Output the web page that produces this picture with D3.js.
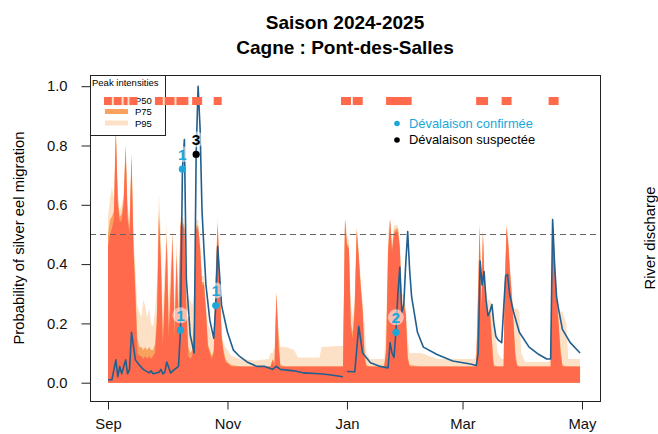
<!DOCTYPE html>
<html>
<head>
<meta charset="utf-8">
<script src="https://cdn.jsdelivr.net/npm/d3@7"></script>
<style>
  body { margin: 0; background: #fff; }
  svg { display: block; font-family: "Liberation Sans", Arial, sans-serif; }
</style>
</head>
<body>
<svg id="chart" width="658" height="434"></svg>
<script>
/**
 * Saison 2024-2025 - Cagne : Pont-des-Salles
 * Discharge bands + migration probability + devalaison events
 */

// --- River discharge (relative units) ---
const qDates = [
  '2024-09-01', '2024-09-02', '2024-09-03', '2024-09-04', '2024-09-05', '2024-09-06', '2024-09-07',
  '2024-09-08', '2024-09-09', '2024-09-10', '2024-09-11', '2024-09-12', '2024-09-13', '2024-09-14',
  '2024-09-15', '2024-09-16', '2024-09-17', '2024-09-18', '2024-09-19', '2024-09-20', '2024-09-21',
  '2024-09-22', '2024-09-23', '2024-09-24', '2024-09-25', '2024-09-26', '2024-09-27', '2024-09-28',
  '2024-09-29', '2024-09-30', '2024-10-01', '2024-10-02', '2024-10-03', '2024-10-04', '2024-10-05',
  '2024-10-06', '2024-10-07', '2024-10-08', '2024-10-09', '2024-10-10', '2024-10-11', '2024-10-12',
  '2024-10-13', '2024-10-14', '2024-10-15', '2024-10-16', '2024-10-17', '2024-10-18', '2024-10-19',
  '2024-10-20', '2024-10-21', '2024-10-22', '2024-10-23', '2024-10-24', '2024-10-25', '2024-10-26',
  '2024-10-27', '2024-10-28', '2024-10-29', '2024-10-30', '2024-10-31', '2024-11-01', '2024-11-03',
  '2024-11-08', '2024-11-15', '2024-11-22', '2024-11-23', '2024-11-24', '2024-11-25', '2024-11-26',
  '2024-11-27', '2024-11-28', '2024-12-01', '2024-12-05', '2024-12-07', '2024-12-18', '2024-12-19',
  '2024-12-30', '2024-12-31', '2025-01-01', '2025-01-02', '2025-01-03', '2025-01-04', '2025-01-05',
  '2025-01-06', '2025-01-07', '2025-01-08', '2025-01-09', '2025-01-10', '2025-01-11', '2025-01-13',
  '2025-01-20', '2025-01-21', '2025-01-22', '2025-01-23', '2025-01-24', '2025-01-25', '2025-01-26',
  '2025-01-27', '2025-01-28', '2025-01-29', '2025-01-30', '2025-01-31', '2025-02-01', '2025-02-02',
  '2025-02-08', '2025-02-12', '2025-02-16', '2025-03-07', '2025-03-08', '2025-03-09', '2025-03-09 18',
  '2025-03-10 14', '2025-03-11 10', '2025-03-12 10', '2025-03-14', '2025-03-15', '2025-03-16 12', '2025-03-17',
  '2025-03-19', '2025-03-21', '2025-03-22', '2025-03-22 12', '2025-03-23 12', '2025-03-24 12', '2025-03-25',
  '2025-03-26', '2025-03-27', '2025-03-28', '2025-03-29', '2025-03-30', '2025-03-31', '2025-04-02',
  '2025-04-14', '2025-04-15', '2025-04-15 12', '2025-04-16', '2025-04-16 12', '2025-04-17', '2025-04-18',
  '2025-04-19', '2025-04-20', '2025-04-21', '2025-04-23', '2025-04-24', '2025-04-30'
];
const qP50 = [
  .46, .50, .52, .55, .84, .60, .54,
  .55, .60, .79, .55, .50, .76, .45,
  .29, .10, .09, .09, .08, .09, .08,
  .09, .08, .09, .10, .20, .56, .40,
  .12, .30, .48, .15, .30, .48, .15,
  .42, .20, .53, .53, .52, .25, .09,
  .08, .09, .20, .52, .52, .45, .33,
  .33, .24, .12, .10, .08, .10, .35,
  .53, .35, .15, .10, .07, .065, .055,
  .055, .055, .055, .055, .075, .055, .30,
  .12, .055, .055, .055, .055, .055, .055,
  .055, .55, .46, .45, .18, .15, .25,
  .51, .42, .32, .24, .08, .055, .055,
  .055, .10, .43, .55, .44, .50, .51,
  .51, .45, .24, .26, .23, .08, .055,
  .055, .055, .055, .055, .055, .30, .52,
  .24, .50, .29, .22, .24, .08, .055,
  .055, .055, .055, .30, .52, .45, .39,
  .30, .20, .08, .055, .055, .055, .055,
  .055, .055, .25, .55, .50, .40, .30,
  .20, .10, .055, .055, .055, .055
];
const qP75 = [
  .50, .55, .56, .58, .86, .62, .56,
  .57, .62, .80, .57, .52, .77, .47,
  .32, .15, .12, .12, .11, .12, .11,
  .12, .11, .11, .13, .24, .58, .42,
  .15, .32, .50, .18, .33, .50, .18,
  .44, .23, .54, .54, .53, .27, .12,
  .10, .11, .22, .53, .53, .46, .34,
  .34, .25, .13, .11, .09, .11, .36,
  .54, .36, .16, .11, .08, .07, .06,
  .055, .055, .055, .055, .08, .07, .30,
  .17, .06, .055, .055, .055, .055, .055,
  .055, .55, .47, .46, .20, .17, .27,
  .52, .43, .33, .25, .10, .06, .055,
  .055, .12, .45, .55, .45, .51, .52,
  .52, .46, .26, .27, .24, .09, .06,
  .055, .055, .055, .055, .06, .32, .53,
  .26, .51, .30, .23, .25, .10, .06,
  .055, .055, .055, .31, .53, .46, .40,
  .31, .21, .10, .06, .055, .055, .055,
  .055, .055, .26, .55, .51, .41, .31,
  .21, .12, .06, .055, .055, .055
];
const qP95 = [
  .56, .62, .66, .62, .87, .64, .58,
  .60, .64, .81, .60, .55, .78, .50,
  .38, .26, .24, .22, .28, .26, .22,
  .25, .20, .19, .24, .34, .64, .50,
  .24, .40, .54, .28, .40, .52, .26,
  .48, .30, .56, .56, .55, .32, .28,
  .28, .26, .30, .55, .55, .48, .36,
  .36, .27, .20, .18, .15, .15, .40,
  .56, .38, .17, .13, .12, .11, .09,
  .08, .075, .08, .10, .10, .12, .31,
  .18, .12, .12, .11, .085, .085, .12,
  .125, .56, .50, .48, .26, .22, .30,
  .53, .45, .35, .27, .20, .10, .08,
  .08, .20, .50, .56, .48, .53, .53,
  .53, .48, .30, .30, .26, .15, .10,
  .10, .09, .08, .08, .10, .36, .55,
  .30, .52, .32, .28, .28, .25, .20,
  .10, .08, .08, .33, .54, .48, .42,
  .33, .25, .25, .25, .24, .10, .07,
  .07, .08, .28, .56, .52, .43, .33,
  .24, .24, .24, .20, .08, .08
];

// --- Probability of silver eel migration ---
const probDates = [
  '2024-09-01', '2024-09-03', '2024-09-05', '2024-09-06', '2024-09-07', '2024-09-08', '2024-09-10',
  '2024-09-11', '2024-09-12', '2024-09-13', '2024-09-15', '2024-09-17', '2024-09-19', '2024-09-22',
  '2024-09-23', '2024-09-24', '2024-09-27', '2024-09-28', '2024-09-29', '2024-09-30', '2024-10-01',
  '2024-10-03', '2024-10-05', '2024-10-07', '2024-10-08', '2024-10-09', '2024-10-10', '2024-10-11',
  '2024-10-13', '2024-10-15', '2024-10-16', '2024-10-17', '2024-10-18', '2024-10-19', '2024-10-20',
  '2024-10-21', '2024-10-23', '2024-10-25', '2024-10-26', '2024-10-27', '2024-10-29', '2024-11-01',
  '2024-11-04', '2024-11-07', '2024-11-11', '2024-11-16', '2024-11-20', '2024-11-24', '2024-11-26',
  '2024-11-28', '2024-12-05', '2024-12-10', '2024-12-18', '2024-12-23', '2024-12-30', '2024-12-31',
  '2025-01-01', '2025-01-05', '2025-01-07', '2025-01-09', '2025-01-13', '2025-01-18', '2025-01-22',
  '2025-01-23', '2025-01-24', '2025-01-25', '2025-01-26', '2025-01-27', '2025-01-28', '2025-01-29',
  '2025-01-30', '2025-01-31', '2025-02-01', '2025-02-02', '2025-02-03', '2025-02-06', '2025-02-09',
  '2025-02-16', '2025-02-24', '2025-03-05', '2025-03-08', '2025-03-09', '2025-03-10', '2025-03-11',
  '2025-03-12', '2025-03-13', '2025-03-14', '2025-03-15', '2025-03-16', '2025-03-17', '2025-03-18',
  '2025-03-19', '2025-03-21', '2025-03-22', '2025-03-23', '2025-03-24', '2025-03-25', '2025-03-27',
  '2025-03-30', '2025-04-04', '2025-04-09', '2025-04-13', '2025-04-15', '2025-04-16', '2025-04-17',
  '2025-04-18', '2025-04-19', '2025-04-21', '2025-04-25', '2025-04-30'
];
const probValues = [
  .01, .01, .077, .02, .055, .03, .077,
  .03, .045, .17, .077, .06, .045, .033,
  .04, .03, .035, .045, .03, .035, .07,
  .033, .045, .055, .177, .72, .82, .35,
  .16, .10, .77, 1.0, .86, .58, .45,
  .33, .21, .15, .26, .46, .26, .17,
  .11, .09, .07, .055, .055, .045, .055,
  .045, .04, .033, .03, .027, .02, null,
  .038, .037, .19, .10, .067, .055, .05,
  .135, .10, .085, .17, .30, .39, .237,
  .26, .40, .51, .38, .29, .17, .12,
  .095, .073, .063, .058, .10, .41, .33,
  .375, .28, .225, .24, .264, .20, .157,
  .145, .135, .25, .36, .365, .30, .24,
  .17, .12, .095, .08, .08, .55, .40,
  .29, .25, .18, .135, .10
];

// --- Peak days (top markers) and their intensity class ---
const peakDates = [
  '2024-09-01', '2024-09-02', '2024-09-03', '2024-09-04', '2024-09-05', '2024-09-06', '2024-09-07',
  '2024-09-08', '2024-09-09', '2024-09-10', '2024-09-11', '2024-09-12', '2024-09-13', '2024-09-14',
  '2024-09-27', '2024-09-28', '2024-09-29', '2024-09-30', '2024-10-01', '2024-10-02', '2024-10-03',
  '2024-10-04', '2024-10-05', '2024-10-06', '2024-10-07', '2024-10-08', '2024-10-09', '2024-10-10',
  '2024-10-16', '2024-10-17', '2024-10-27', '2024-12-31', '2025-01-01', '2025-01-06', '2025-01-07',
  '2025-01-23', '2025-01-24', '2025-01-25', '2025-01-26', '2025-01-27', '2025-01-28', '2025-01-29',
  '2025-01-30', '2025-01-31', '2025-02-01', '2025-03-10', '2025-03-11', '2025-03-12', '2025-03-23',
  '2025-03-24', '2025-04-16', '2025-04-17'
];
const peakClasses = [
  'P50', 'P50', 'P50', 'P50', 'P95', 'P50', 'P50',
  'P50', 'P50', 'P95', 'P50', 'P50', 'P95', 'P50',
  'P50', 'P50', 'P50', 'P50', 'P95', 'P50', 'P50',
  'P50', 'P50', 'P50', 'P95', 'P50', 'P50', 'P50',
  'P50', 'P50', 'P50', 'P50', 'P50', 'P50', 'P50',
  'P50', 'P50', 'P50', 'P50', 'P50', 'P50', 'P50',
  'P50', 'P50', 'P50', 'P50', 'P50', 'P50', 'P50',
  'P50', 'P50', 'P50'
];

// --- Devalaison events ---
const eventDates = ['2024-10-08', '2024-10-09', '2024-10-16', '2024-10-26', '2025-01-26'];
const eventValues = [0.177, 0.72, 0.77, 0.26, 0.17];
const eventLabels = ['1', '1', '3', '1', '2'];
const eventTypes = ['confirmee', 'confirmee', 'suspectee', 'confirmee', 'confirmee'];

// --- Axis ticks ---
const monthTicks = ['2024-09-01', '2024-11-01', '2025-01-01', '2025-03-01', '2025-05-01'];
const monthLabels = ['Sep', 'Nov', 'Jan', 'Mar', 'May'];
const probTicks = [0, 0.2, 0.4, 0.6, 0.8, 1.0];

const intensityNames = ['P50', 'P75', 'P95'];
const COLORS = { P50: '#FF6A4D', P75: '#F9A15E', P95: '#FDE1C7' };
const LINE_BLUE = '#215F8F';
const CYAN = '#1CA7D8';

const parseDay = d3.utcParse('%Y-%m-%d');
const parseHour = d3.utcParse('%Y-%m-%d %H');
const toDate = s => (s.length > 10 ? parseHour(s) : parseDay(s));

function drawChart() {
    const svg = d3.select('#chart');
    svg.selectAll('*').remove();

    const box = { left: 90, right: 600, top: 75, bottom: 401 };

    // Skalen
    const x = d3.scaleUtc()
        .domain([toDate('2024-09-01'), toDate('2025-05-01')])
        .range([108, 582]);
    const y = d3.scaleLinear().domain([0, 1]).range([382.7, 86.2]);
    // discharge has its own (unlabelled) axis
    const yQ = d3.scaleLinear().domain([0, 1]).range([382.7, 86.2]);

    const q = qDates.map((d, i) => ({ date: toDate(d), P50: qP50[i], P75: qP75[i], P95: qP95[i] }));

    // discharge bands, widest first
    ['P95', 'P75', 'P50'].forEach(key => {
        const area = d3.area()
            .x(d => x(d.date))
            .y0(yQ(0))
            .y1(d => yQ(d[key]));
        svg.append('path')
            .datum(q)
            .attr('d', area)
            .style('fill', COLORS[key]);
    });

    // threshold 0.5
    svg.append('line')
        .attr('x1', box.left).attr('x2', box.right)
        .attr('y1', y(0.5)).attr('y2', y(0.5))
        .style('stroke', '#666')
        .style('stroke-width', 1.1)
        .style('stroke-dasharray', '6,4');

    // probability line
    const prob = probDates.map((d, i) => ({ date: toDate(d), v: probValues[i] }));
    const line = d3.line()
        .defined(d => d.v !== null)
        .x(d => x(d.date))
        .y(d => y(d.v));
    svg.append('path')
        .datum(prob)
        .attr('d', line)
        .style('fill', 'none')
        .style('stroke', LINE_BLUE)
        .style('stroke-width', 1.6)
        .style('stroke-linejoin', 'round');

    // Legende Peak intensities
    const leg = svg.append('g');
    leg.append('rect')
        .attr('x', box.left + 0.5).attr('y', box.top + 0.5)
        .attr('width', 75).attr('height', 60)
        .style('fill', '#fff')
        .style('stroke', '#222');
    leg.append('text')
        .attr('x', 92).attr('y', 86)
        .style('font-size', '9.5px')
        .text('Peak intensities');
    intensityNames.forEach((name, i) => {
        const ly = 100 + i * 11.5;
        leg.append('line')
            .attr('x1', 105).attr('x2', 128)
            .attr('y1', ly).attr('y2', ly)
            .style('stroke', COLORS[name])
            .style('stroke-width', 5);
        leg.append('text')
            .attr('x', 135).attr('y', ly + 3.5)
            .style('font-size', '9.5px')
            .text(name);
    });

    // peak markers
    svg.selectAll('.peak')
        .data(peakDates)
        .enter()
        .append('rect')
        .attr('class', 'peak')
        .attr('x', d => x(toDate(d)) - 4)
        .attr('y', y(0.95) - 4)
        .attr('width', 8)
        .attr('height', 8)
        .style('fill', (d, i) => COLORS[peakClasses[i]]);

    // events
    eventDates.forEach((d, i) => {
        const ex = x(toDate(d));
        const ey = y(eventValues[i]);
        const col = eventTypes[i] === 'confirmee' ? CYAN : '#000';
        svg.append('circle')
            .attr('cx', ex).attr('cy', ey).attr('r', 3.6)
            .style('fill', col);
        svg.append('circle')
            .attr('cx', ex).attr('cy', ey - 15).attr('r', 8)
            .style('fill', '#fff')
            .style('opacity', 0.55);
        svg.append('text')
            .attr('x', ex).attr('y', ey - 15)
            .attr('text-anchor', 'middle')
            .attr('dy', '0.36em')
            .style('font-size', '15.5px')
            .style('font-weight', 'bold')
            .style('fill', col)
            .text(eventLabels[i]);
    });

    // Legende Devalaison
    [['Dévalaison confirmée', CYAN, CYAN], ['Dévalaison suspectée', '#000', '#000']].forEach((item, i) => {
        const ly = 123.5 + i * 16.5;
        svg.append('circle')
            .attr('cx', 397).attr('cy', ly).attr('r', 2.8)
            .style('fill', item[1]);
        svg.append('text')
            .attr('x', 409).attr('y', ly + 4.4)
            .style('font-size', '12.9px')
            .style('fill', item[2])
            .text(item[0]);
    });

    // Rahmen
    svg.append('rect')
        .attr('x', box.left + 0.5).attr('y', box.top + 0.5)
        .attr('width', box.right - box.left)
        .attr('height', box.bottom - box.top)
        .style('fill', 'none')
        .style('stroke', '#222');

    // Achsen
    const yAxis = d3.axisLeft(y)
        .tickValues(probTicks)
        .tickFormat(d3.format('.1f'))
        .tickSize(9)
        .tickPadding(14);
    const gy = svg.append('g')
        .attr('transform', `translate(${box.left + 0.5},0)`)
        .call(yAxis);

    const xAxis = d3.axisBottom(x)
        .tickValues(monthTicks.map(toDate))
        .tickFormat((d, i) => monthLabels[i])
        .tickSize(8)
        .tickPadding(9);
    const gx = svg.append('g')
        .attr('transform', `translate(0,${box.bottom + 0.5})`)
        .call(xAxis);

    [gx, gy].forEach(g => {
        g.select('.domain').remove();
        g.selectAll('.tick line').style('stroke', '#222');
        g.selectAll('.tick text')
            .style('font-size', '14.8px')
            .style('font-family', '"Liberation Sans", Arial, sans-serif')
            .style('fill', '#111');
    });

    // Titel
    svg.append('text')
        .attr('x', 345).attr('y', 28.5)
        .attr('text-anchor', 'middle')
        .style('font-size', '19px')
        .style('font-weight', 'bold')
        .text('Saison 2024-2025');
    svg.append('text')
        .attr('x', 345).attr('y', 53.5)
        .attr('text-anchor', 'middle')
        .style('font-size', '19px')
        .style('font-weight', 'bold')
        .text('Cagne : Pont-des-Salles');

    // Achsentitel
    svg.append('text')
        .attr('transform', 'translate(24,238) rotate(-90)')
        .attr('text-anchor', 'middle')
        .style('font-size', '14.8px')
        .text('Probability of silver eel migration');
    svg.append('text')
        .attr('transform', 'translate(655,238) rotate(-90)')
        .attr('text-anchor', 'middle')
        .style('font-size', '14.8px')
        .text('River discharge');
}

drawChart();
</script>
</body>
</html>
